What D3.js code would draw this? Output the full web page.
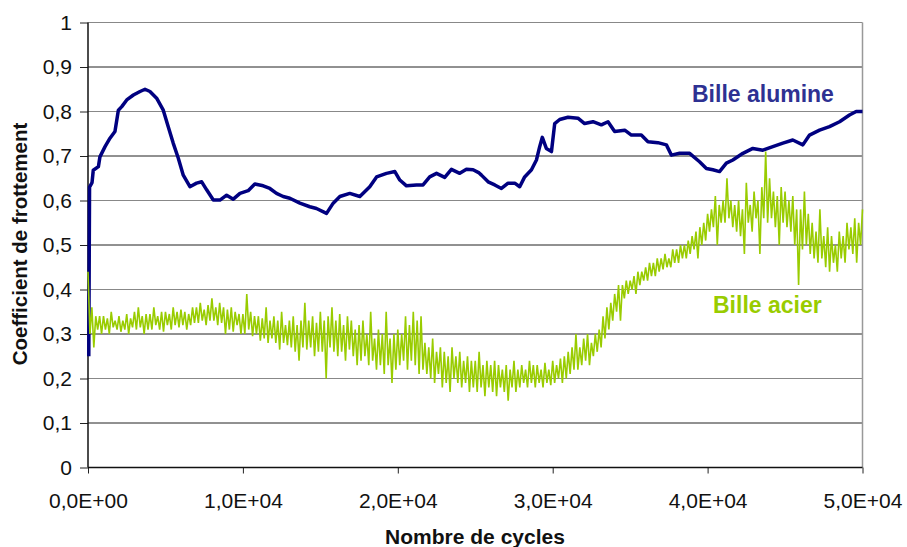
<!DOCTYPE html>
<html>
<head>
<meta charset="utf-8">
<script src="https://cdn.jsdelivr.net/npm/d3@7/dist/d3.min.js"></script>
<style>
  body { margin: 0; background: #fff; }
  svg { display: block; }
  text { font-family: "Liberation Sans", Arial, sans-serif; }
</style>
</head>
<body>
<svg id="chart" width="907" height="547"></svg>
<script>
// Axis ticks and their labels (French decimal comma, scientific notation)
const yTicks = [0, 0.1, 0.2, 0.3, 0.4, 0.5, 0.6, 0.7, 0.8, 0.9, 1];
const yTickLabels = ["0", "0,1", "0,2", "0,3", "0,4", "0,5", "0,6", "0,7", "0,8", "0,9", "1"];
const xTicks = [0, 10000, 20000, 30000, 40000, 50000];
const xTickLabels = ["0,0E+00", "1,0E+04", "2,0E+04", "3,0E+04", "4,0E+04", "5,0E+04"];

// Friction coefficient with the alumina ball (number of cycles, coefficient)
const alumineCycles = [
  50, 100, 260, 340, 670, 770, 1100, 1420, 1740, 1960, 2180, 2500, 2930, 3360, 3680, 4000,
  4430, 4860, 5180, 5500, 5830, 6150, 6580, 7010, 7340, 7660, 8090, 8520, 8950, 9380, 9810,
  10340, 10770, 11310, 11740, 12170, 12600, 13030, 13680, 14320, 14750, 15400, 15830, 16260,
  16900, 17550, 18190, 18630, 19270, 19810, 20130, 20560, 21210, 21630, 22060, 22500, 23030,
  23460, 24000, 24430, 24860, 25250, 25400, 25830, 26260, 26690, 27120, 27550, 27870, 28190,
  28630, 28950, 29160, 29330, 29590, 29920, 30130, 30450, 30990, 31630, 32060, 32600, 33140,
  33570, 34000, 34650, 35080, 35720, 36150, 36790, 37340, 37660, 38190, 38840, 39480, 39920,
  40340, 40770, 41210, 41630, 42280, 42920, 43570, 44210, 44860, 45500, 46150, 46580, 47230,
  47870, 48520, 49160, 49590, 50000
];
const alumineValues = [
  0.25, 0.63, 0.64, 0.668, 0.676, 0.698, 0.721, 0.740, 0.755, 0.803, 0.811, 0.826, 0.837, 0.845, 0.850, 0.845,
  0.830, 0.803, 0.766, 0.729, 0.695, 0.657, 0.631, 0.639, 0.642, 0.624, 0.601, 0.601, 0.612, 0.603, 0.616,
  0.622, 0.637, 0.633, 0.627, 0.616, 0.609, 0.605, 0.594, 0.586, 0.582, 0.571, 0.594, 0.609,
  0.616, 0.609, 0.631, 0.653, 0.661, 0.665, 0.646, 0.633, 0.635, 0.635, 0.653, 0.661, 0.652,
  0.670, 0.661, 0.670, 0.669, 0.662, 0.657, 0.642, 0.635, 0.627, 0.639, 0.639, 0.631, 0.653,
  0.669, 0.691, 0.721, 0.742, 0.717, 0.710, 0.773, 0.782, 0.787, 0.785, 0.773, 0.777, 0.770,
  0.777, 0.755, 0.758, 0.747, 0.747, 0.732, 0.730, 0.725, 0.702, 0.706, 0.706, 0.687, 0.672,
  0.669, 0.665, 0.684, 0.691, 0.706, 0.717, 0.713, 0.721, 0.729, 0.736, 0.725, 0.747, 0.758,
  0.766, 0.777, 0.792, 0.800, 0.800
];

// Friction coefficient with the steel ball, one reading every 125 cycles
// (each row below covers 1000 cycles)
const acierStep = 125;
const acierValues = [
  0.44, 0.30, 0.36, 0.27, 0.34, 0.31, 0.34, 0.30,
  0.34, 0.31, 0.335, 0.30, 0.35, 0.315, 0.33, 0.31,
  0.34, 0.305, 0.33, 0.31, 0.345, 0.30, 0.335, 0.315,
  0.35, 0.31, 0.36, 0.315, 0.34, 0.30, 0.345, 0.31,
  0.345, 0.31, 0.36, 0.32, 0.34, 0.31, 0.35, 0.305,
  0.35, 0.32, 0.345, 0.31, 0.36, 0.32, 0.35, 0.315,
  0.355, 0.32, 0.35, 0.31, 0.345, 0.32, 0.36, 0.325,
  0.36, 0.325, 0.37, 0.33, 0.355, 0.32, 0.365, 0.33,
  0.38, 0.33, 0.36, 0.32, 0.37, 0.325, 0.36, 0.30,
  0.355, 0.31, 0.36, 0.305, 0.35, 0.32, 0.345, 0.30,
  0.345, 0.30, 0.39, 0.31, 0.35, 0.295, 0.34, 0.30,
  0.34, 0.285, 0.335, 0.29, 0.36, 0.28, 0.33, 0.29,
  0.34, 0.28, 0.33, 0.265, 0.35, 0.28, 0.32, 0.275,
  0.33, 0.27, 0.34, 0.26, 0.32, 0.24, 0.33, 0.27,
  0.37, 0.265, 0.33, 0.27, 0.34, 0.25, 0.325, 0.26,
  0.35, 0.26, 0.33, 0.20, 0.34, 0.27, 0.36, 0.26,
  0.33, 0.25, 0.345, 0.26, 0.32, 0.24, 0.34, 0.265,
  0.33, 0.25, 0.31, 0.23, 0.32, 0.24, 0.33, 0.25,
  0.30, 0.23, 0.35, 0.24, 0.29, 0.22, 0.31, 0.23,
  0.30, 0.21, 0.35, 0.23, 0.29, 0.19, 0.30, 0.22,
  0.31, 0.23, 0.30, 0.24, 0.34, 0.22, 0.32, 0.24,
  0.35, 0.23, 0.33, 0.21, 0.34, 0.22, 0.28, 0.21,
  0.27, 0.20, 0.29, 0.19, 0.26, 0.21, 0.27, 0.18,
  0.26, 0.19, 0.25, 0.17, 0.27, 0.20, 0.25, 0.19,
  0.26, 0.18, 0.24, 0.19, 0.25, 0.17, 0.24, 0.18,
  0.24, 0.17, 0.26, 0.18, 0.23, 0.16, 0.24, 0.18,
  0.23, 0.17, 0.24, 0.16, 0.23, 0.18, 0.22, 0.17,
  0.23, 0.15, 0.22, 0.18, 0.24, 0.17, 0.22, 0.18,
  0.23, 0.19, 0.22, 0.18, 0.24, 0.19, 0.23, 0.18,
  0.23, 0.19, 0.22, 0.18, 0.235, 0.19, 0.22, 0.185,
  0.24, 0.19, 0.23, 0.20, 0.245, 0.19, 0.25, 0.20,
  0.26, 0.21, 0.27, 0.22, 0.30, 0.22, 0.27, 0.23,
  0.29, 0.24, 0.30, 0.23, 0.28, 0.25, 0.30, 0.26,
  0.31, 0.27, 0.34, 0.29, 0.36, 0.31, 0.37, 0.33,
  0.39, 0.35, 0.41, 0.33, 0.41, 0.38, 0.42, 0.39,
  0.42, 0.40, 0.43, 0.39, 0.44, 0.41, 0.44, 0.42,
  0.45, 0.42, 0.46, 0.43, 0.46, 0.43, 0.47, 0.44,
  0.47, 0.445, 0.48, 0.45, 0.47, 0.45, 0.49, 0.46,
  0.49, 0.46, 0.50, 0.47, 0.50, 0.47, 0.51, 0.48,
  0.52, 0.49, 0.53, 0.47, 0.54, 0.50, 0.55, 0.51,
  0.57, 0.53, 0.58, 0.54, 0.61, 0.50, 0.59, 0.55,
  0.60, 0.55, 0.65, 0.56, 0.60, 0.54, 0.59, 0.53,
  0.60, 0.52, 0.58, 0.48, 0.64, 0.55, 0.59, 0.53,
  0.62, 0.56, 0.60, 0.48, 0.63, 0.56, 0.71, 0.55,
  0.65, 0.56, 0.62, 0.54, 0.61, 0.50, 0.63, 0.55,
  0.62, 0.54, 0.60, 0.53, 0.61, 0.50, 0.58, 0.41,
  0.58, 0.49, 0.62, 0.50, 0.57, 0.48, 0.55, 0.47,
  0.53, 0.46, 0.58, 0.47, 0.52, 0.45, 0.54, 0.44,
  0.52, 0.46, 0.50, 0.44, 0.53, 0.47, 0.52, 0.46,
  0.55, 0.49, 0.54, 0.48, 0.56, 0.46, 0.55, 0.50,
  0.58
];

const seriesNames = ["Bille alumine", "Bille acier"];
const seriesColors = ["#000080", "#99cc00"];
const labelColors = ["#2e3192", "#99cc00"];

const svg = d3.select("#chart");
const plot = { left: 88, right: 862.5, top: 22.5, bottom: 467.5 };

const x = d3.scaleLinear().domain([0, 50000]).range([plot.left, plot.right]);
const y = d3.scaleLinear().domain([0, 1]).range([plot.bottom, plot.top]);

// Horizontal gridlines
svg.append("g")
  .selectAll("line")
  .data(yTicks.filter(d => d > 0))
  .join("line")
  .attr("x1", plot.left).attr("x2", plot.right)
  .attr("y1", d => y(d)).attr("y2", d => y(d))
  .attr("stroke", d => (Math.round(d * 10) % 2 === 0 ? "#888" : "#222"))
  .attr("stroke-width", 1);

// Right border of the plot area
svg.append("line")
  .attr("x1", plot.right).attr("x2", plot.right)
  .attr("y1", plot.top).attr("y2", plot.bottom)
  .attr("stroke", "#999").attr("stroke-width", 1.5);

// Y axis
const yAxis = d3.axisLeft(y)
  .tickValues(yTicks)
  .tickFormat((d, i) => yTickLabels[i])
  .tickSize(8)
  .tickPadding(8);
const gy = svg.append("g").attr("transform", `translate(${plot.left},0)`).call(yAxis);
gy.select(".domain").remove();
gy.selectAll(".tick line").attr("stroke", "#222");
gy.selectAll(".tick text")
  .attr("font-family", "Liberation Sans, Arial, sans-serif")
  .attr("font-size", 21).attr("fill", "#111");

// X axis
const xAxis = d3.axisBottom(x)
  .tickValues(xTicks)
  .tickFormat((d, i) => xTickLabels[i])
  .tickSize(6)
  .tickPadding(20);
const gx = svg.append("g").attr("transform", `translate(0,${plot.bottom})`).call(xAxis);
gx.select(".domain").remove();
gx.selectAll(".tick line").attr("stroke", "#222");
gx.selectAll(".tick text")
  .attr("font-family", "Liberation Sans, Arial, sans-serif")
  .attr("font-size", 21).attr("fill", "#111");

// Axis lines
svg.append("line")
  .attr("x1", plot.left).attr("x2", plot.left)
  .attr("y1", plot.top).attr("y2", plot.bottom)
  .attr("stroke", "#111").attr("stroke-width", 1.5);
svg.append("line")
  .attr("x1", plot.left).attr("x2", plot.right)
  .attr("y1", plot.bottom).attr("y2", plot.bottom)
  .attr("stroke", "#111").attr("stroke-width", 1.5);

// Series
const alumine = alumineCycles.map((c, i) => [c, alumineValues[i]]);
const acier = acierValues.map((v, i) => [i * acierStep, v]);

const line = d3.line().x(d => x(d[0])).y(d => y(d[1]));

svg.append("path")
  .datum(alumine)
  .attr("d", line)
  .attr("fill", "none")
  .attr("stroke", seriesColors[0])
  .attr("stroke-width", 3.5)
  .attr("stroke-linejoin", "round");

svg.append("path")
  .datum(acier)
  .attr("d", line)
  .attr("fill", "none")
  .attr("stroke", seriesColors[1])
  .attr("stroke-width", 1.6)
  .attr("stroke-linejoin", "miter");

// Series labels
svg.append("text")
  .attr("x", 692).attr("y", 102)
  .attr("font-size", 23).attr("font-weight", "bold")
  .attr("fill", labelColors[0])
  .text(seriesNames[0]);
svg.append("text")
  .attr("x", 713).attr("y", 313)
  .attr("font-size", 23).attr("font-weight", "bold")
  .attr("fill", labelColors[1])
  .text(seriesNames[1]);

// Axis titles
svg.append("text")
  .attr("x", 475).attr("y", 544)
  .attr("text-anchor", "middle")
  .attr("font-size", 21).attr("font-weight", "bold").attr("fill", "#111")
  .text("Nombre de cycles");
svg.append("text")
  .attr("transform", "translate(27,244) rotate(-90)")
  .attr("text-anchor", "middle")
  .attr("font-size", 20.5).attr("font-weight", "bold").attr("fill", "#111")
  .text("Coefficient de frottement");
</script>
</body>
</html>
